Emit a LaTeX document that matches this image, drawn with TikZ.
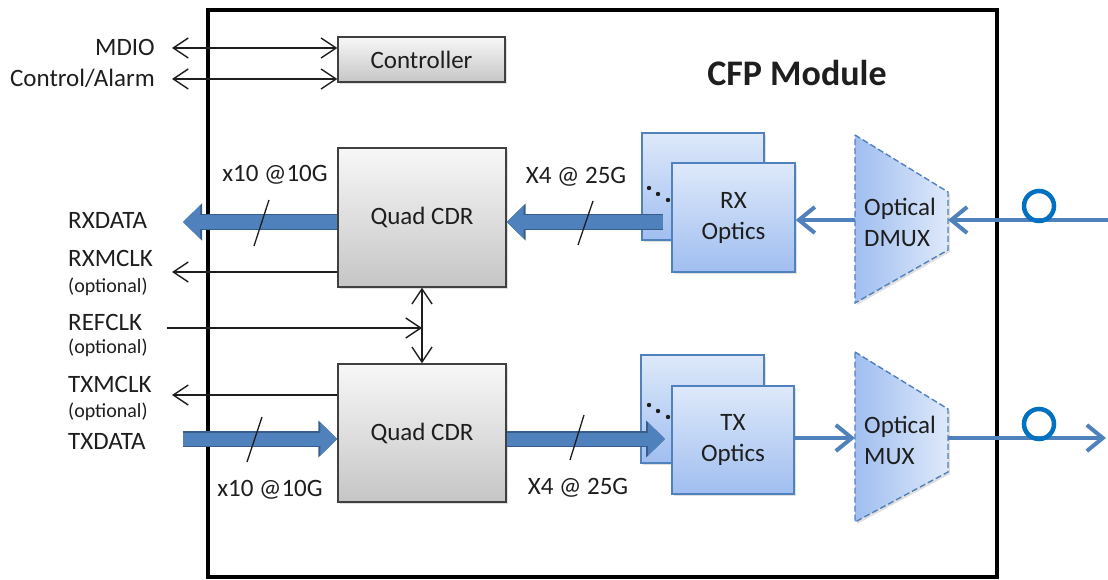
\documentclass[tikz,border=0pt]{standalone}
\usepackage{fontspec}
\setmainfont{Carlito}
\usetikzlibrary{arrows.meta,shadows}
\definecolor{accent}{RGB}{79,129,189}
\definecolor{accentdark}{RGB}{56,93,138}
\definecolor{ringblue}{RGB}{0,112,192}
\definecolor{optlight}{RGB}{222,233,250}
\definecolor{optdark}{RGB}{160,190,240}
\definecolor{txt}{RGB}{30,30,30}
\begin{document}
\begin{tikzpicture}[x=1pt,y=-1pt,
  every node/.style={inner sep=0pt, text=txt, font=\fontsize{25pt}{31pt}\selectfont},
  small/.style={font=\fontsize{20pt}{24pt}\selectfont},
  boxshadow/.style={drop shadow={opacity=0.25, shadow xshift=2pt, shadow yshift=-2pt}},
  cdrbox/.style={draw=black!75, line width=1.4pt, top color=gray!6, bottom color=gray!45, boxshadow},
  optbox/.style={draw=accent, line width=1.4pt, top color=optlight, bottom color=optdark, align=center, boxshadow},
  muxshape/.style={draw=accent, dash pattern=on 6pt off 3pt, line width=1.4pt, left color=optdark, right color=optlight, boxshadow},
  sig/.style={line width=1.4pt, draw=txt},
  chev/.tip={Straight Barb[length=15pt,width=20pt]},
  fat/.style={line width=13pt, draw=accent, -{Triangle[length=17pt,width=32pt]},
    preaction={draw=accentdark, line width=16pt, -{Triangle[length=19pt,width=36pt]}}},
  optline/.style={line width=4pt, draw=accent, -{Straight Barb[length=16pt,width=26pt]}},
  ring/.style={circle, draw=ringblue, line width=4.5pt, minimum size=30pt},
  tick/.style={line width=1.3pt, draw=txt}]
\useasboundingbox (0,0) rectangle (1108,580);
\draw[line width=4pt] (208,10) rectangle (997,577);
\node[font=\fontsize{36pt}{40pt}\selectfont\bfseries] (title) at (797,73) {CFP Module};
\node[cdrbox, minimum width=167pt, minimum height=45pt] (ctrl) at (421.5,59.5) {Controller};
\node[cdrbox, minimum width=168pt, minimum height=139pt] (cdru) at (422,217.5) {Quad CDR};
\node[cdrbox, minimum width=168pt, minimum height=138pt] (cdrl) at (422,433) {Quad CDR};
\node[anchor=east] (mdio) at (155,47) {MDIO};
\node[anchor=east] (ctlalarm) at (155,78) {Control/Alarm};
\node[anchor=west] (rxdata) at (68,220) {RXDATA};
\node[anchor=west] (rxmclk) at (68,258) {RXMCLK};
\node[anchor=west, small] (rxopt) at (68,287) {(optional)};
\node[anchor=west] (refclk) at (68,322) {REFCLK};
\node[anchor=west, small] (refopt) at (68,348) {(optional)};
\node[anchor=west] (txmclk) at (68,384) {TXMCLK};
\node[anchor=west, small] (txopt) at (68,412) {(optional)};
\node[anchor=west] (txdata) at (68,441) {TXDATA};
\node (rxrate) at (275,175) {x10 @10G};
\node (txrate) at (270,490) {x10 @10G};
\node (rxlane) at (576,177) {X4 @ 25G};
\node (txlane) at (578,488) {X4 @ 25G};
\coordinate (mdioend) at (172,48);
\coordinate (ctlend) at (172,79);
\coordinate (rxmend) at (172,272);
\coordinate (refstart) at (167,328);
\coordinate (txmend) at (172,395);
\coordinate (rxdataend) at (183,222);
\coordinate (txdatastart) at (183,439);
\coordinate (rxbar) at (663,222);
\coordinate (txbar) at (665,439);
\draw[sig, chev-chev] (mdioend) -- (ctrl.west |- mdioend);
\draw[sig, chev-chev] (ctlend) -- (ctrl.west |- ctlend);
\draw[sig, -chev] (cdru.west |- rxmend) -- (rxmend);
\draw[sig, -chev] (refstart) -- (refstart -| cdru.south);
\draw[sig, chev-chev] (cdru.south) -- (cdrl.north);
\draw[sig, -chev] (cdrl.west |- txmend) -- (txmend);
\node[optbox, minimum width=122pt, minimum height=107pt] (rxback) at (703,186.5) {};
\node[optbox, minimum width=123pt, minimum height=108pt] (txback) at (702.5,409) {};
\foreach \dx/\dy in {649/188,658/194,668/200} {
  \fill[txt] (\dx,\dy) circle (2.2pt);
  \fill[txt] (\dx,\dy+217) circle (2.2pt);
}
\draw[fat] (cdru.west |- rxdataend) -- (rxdataend);
\draw[fat] (rxbar) -- (cdru.east |- rxbar);
\draw[fat] (txdatastart) -- (cdrl.west |- txdatastart);
\draw[fat] (cdrl.east |- txbar) -- (txbar);
\draw[tick] (269,200) -- (254,246);
\draw[tick] (262,417) -- (247,462);
\draw[tick] (593,201) -- (578,245);
\draw[tick] (584,415) -- (570,460);
\node[optbox, minimum width=123pt, minimum height=109pt] (rxfront) at (733.5,217.5) {RX\\Optics};
\node[optbox, minimum width=122pt, minimum height=108pt] (txfront) at (733,440) {TX\\Optics};
\draw[muxshape] (855,135) -- (948,192) -- (948,250) -- (855,303) -- cycle;
\draw[muxshape] (855,352) -- (948,409) -- (948,472) -- (855,522) -- cycle;
\node[anchor=west, align=left] (dmux) at (864,222) {Optical\\DMUX};
\node[anchor=west, align=left] (mux) at (864,440) {Optical\\MUX};
\coordinate (dmuxL) at (855,220);
\coordinate (dmuxR) at (948,220);
\coordinate (muxL) at (855,438);
\coordinate (muxR) at (948,438);
\coordinate (fiberin) at (1108,220);
\coordinate (fiberout) at (1106,438);
\draw[optline] (dmuxL) -- (rxfront.east |- dmuxL);
\draw[optline] (fiberin) -- (dmuxR);
\draw[optline] (txfront.east |- muxL) -- (muxL);
\draw[optline] (muxR) -- (fiberout);
\node[ring] (ringrx) at (1039,206) {};
\node[ring] (ringtx) at (1039,424) {};
\end{tikzpicture}
\end{document}
